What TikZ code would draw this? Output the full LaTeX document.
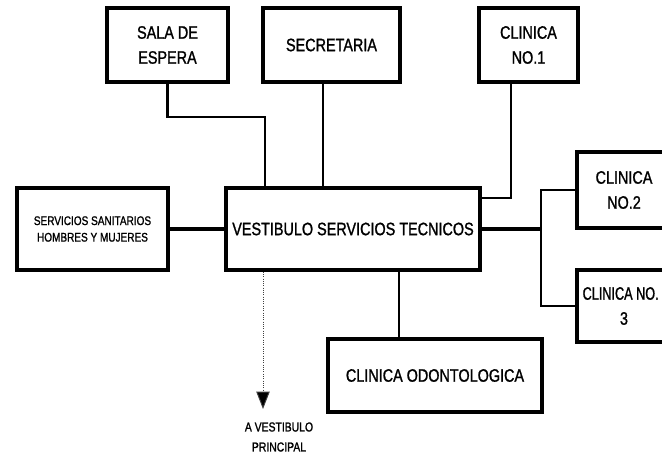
\documentclass[tikz,border=0pt]{standalone}
\usepackage{fontspec}
\usetikzlibrary{arrows.meta}
\newfontfamily\cf[FakeStretch=0.8,FakeBold=1.2]{Liberation Sans}
\newcommand{\bigtxt}{\cf\fontsize{13.5pt}{18.75pt}\selectfont}
\newcommand{\smalltxt}{\cf\fontsize{9.4pt}{12.4pt}\selectfont}
\newcommand{\arrtxt}{\cf\fontsize{9.75pt}{15pt}\selectfont}
\tikzset{
  room/.style={draw=black, line width=2.6pt, rectangle, inner sep=0pt, align=center, font=\bigtxt},
  conn/.style={draw=black, line width=2.1pt},
  mainconn/.style={draw=black, line width=3pt},
  exitarrow/.style={draw=black!75, line width=0.7pt, densely dotted,
    -{Triangle[width=10pt,length=13pt,fill=black]}},
}
\begin{document}
\begin{tikzpicture}[x=0.75pt,y=-0.75pt]
\useasboundingbox (0,0) rectangle (662,454);
\clip (0,0) rectangle (662,454);
\fill[white] (0,0) rectangle (662,454);

\node[room, minimum width=90.75pt, minimum height=55.5pt] (sala) at (167.5,45) {SALA DE\\ESPERA};
\node[room, minimum width=102.75pt, minimum height=55.5pt] (sec) at (331.5,45) {SECRETARIA};
\node[room, minimum width=74.25pt, minimum height=55.5pt] (cl1) at (528.5,45) {CLINICA\\NO.1};
\node[room, minimum width=113.25pt, minimum height=61.5pt, font=\smalltxt] (serv) at (92.5,229) {SERVICIOS SANITARIOS\\HOMBRES Y MUJERES};
\node[room, minimum width=190.5pt, minimum height=61.5pt] (vest) at (353,229) {VESTIBULO SERVICIOS TECNICOS};
\node[room, minimum width=70.5pt, minimum height=57pt] (cl2) at (624,190) {CLINICA\\NO.2};
\node[room, minimum width=70.5pt, minimum height=54pt] (cl3) at (624,306) {\scalebox{0.88}[1]{CLINICA NO.}\hspace*{5pt}\\3};
\node[room, minimum width=160.5pt, minimum height=54.75pt] (odo) at (435,375.5) {CLINICA ODONTOLOGICA};

\coordinate (b1) at (265,117);
\coordinate (s1) at (323,0);
\coordinate (c1x) at (511,198);
\coordinate (br) at (541,229);
\coordinate (o1) at (399,0);
\coordinate (a1) at (263,409);

\draw[conn] (sala.south) |- (b1) -- (b1 |- vest.north);
\draw[conn] (sec.south -| s1) -- (vest.north -| s1);
\draw[conn] (cl1.south -| c1x) -- (c1x) -- (c1x -| vest.east);
\draw[mainconn] (serv.east) -- (vest.west);
\draw[mainconn] (vest.east) -- (br);
\draw[conn] (cl2.west) -| (br) |- (cl3.west);
\draw[conn] (vest.south -| o1) -- (odo.north -| o1);
\draw[exitarrow] (vest.south -| a1) -- (a1);
\node[font=\arrtxt, align=center, inner sep=0pt] (lbl) at (279,437) {A VESTIBULO\\PRINCIPAL};
\end{tikzpicture}
\end{document}
